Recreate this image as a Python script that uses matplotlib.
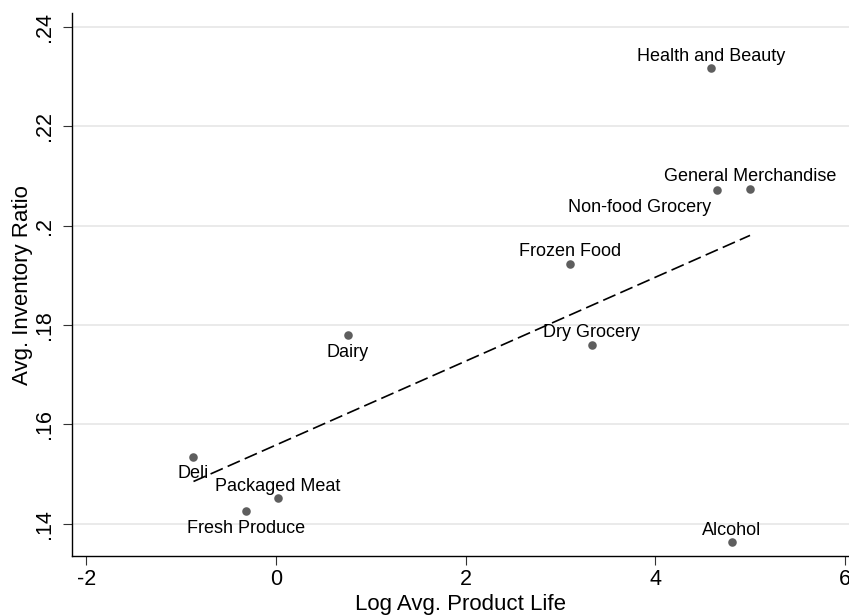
import numpy as np
import matplotlib
matplotlib.use('Agg')
import matplotlib.pyplot as plt

plt.rcParams['font.family'] = ['Liberation Sans', 'DejaVu Sans']

# category data
names = ['Health and Beauty', 'General Merchandise', 'Non-food Grocery',
         'Frozen Food', 'Dry Grocery', 'Dairy', 'Deli', 'Packaged Meat',
         'Fresh Produce', 'Alcohol']
log_life = [4.59, 5.00, 4.65, 3.10, 3.33, 0.76, -0.87, 0.02, -0.32, 4.81]
inv_ratio = [0.2316, 0.2074, 0.2071, 0.1923, 0.1760, 0.1779, 0.1535, 0.1452, 0.1426, 0.1363]
label_pos = ['above', 'above', 'below_left', 'above', 'above', 'below',
             'below', 'above', 'below', 'above']

xticks = [-2, 0, 2, 4, 6]
yticks = [0.14, 0.16, 0.18, 0.20, 0.22, 0.24]
ytick_labels = ['.14', '.16', '.18', '.2', '.22', '.24']

fig = plt.figure(figsize=(8.49, 6.15), dpi=100)
ax = fig.add_axes([0.0852, 0.0958, 0.9148, 0.8826])

ax.set_xlim(-2.148, 6.044)
ax.set_ylim(0.1335, 0.2427)

# grid
ax.set_yticks(yticks)
ax.set_yticklabels(ytick_labels, rotation=90, va='center')
ax.set_xticks(xticks)
ax.set_xticklabels([str(t) for t in xticks])
ax.yaxis.grid(True, color='#e6e6e6', linewidth=1.2)
ax.set_axisbelow(True)

for s in ['top', 'right']:
    ax.spines[s].set_visible(False)
for s in ['left', 'bottom']:
    ax.spines[s].set_linewidth(1.0)
    ax.spines[s].set_color('black')
ax.tick_params(axis='both', direction='out', length=6.5, width=0.8,
               color='#333333', labelsize=15.5)
ax.tick_params(axis='x', pad=3)
ax.tick_params(axis='y', pad=6)

# linear fit
x = np.array(log_life)
y = np.array(inv_ratio)
b, a = np.polyfit(x, y, 1)
xs = np.array([x.min(), x.max()])
fit, = ax.plot(xs, a + b * xs, color='black', linewidth=1.2, zorder=2)
fit.set_dashes((8, 3.2))

ax.scatter(x, y, s=38, color='#5e5e5e', zorder=3, linewidths=0)

for n, xi, yi, p in zip(names, log_life, inv_ratio, label_pos):
    if p == 'above':
        ax.annotate(n, (xi, yi), xytext=(0, 5.3), textcoords='offset points',
                    ha='center', va='baseline', fontsize=13)
    elif p == 'below':
        ax.annotate(n, (xi, yi), xytext=(0, -15.6), textcoords='offset points',
                    ha='center', va='baseline', fontsize=13)
    else:
        ax.annotate(n, (xi, yi), xytext=(-4, -15.4), textcoords='offset points',
                    ha='right', va='baseline', fontsize=13)

ax.set_xlabel('Log Avg. Product Life', fontsize=16, labelpad=2.5)
ax.set_ylabel('Avg. Inventory Ratio', fontsize=16, labelpad=0.5)

fig.savefig('out.png', dpi=100)
